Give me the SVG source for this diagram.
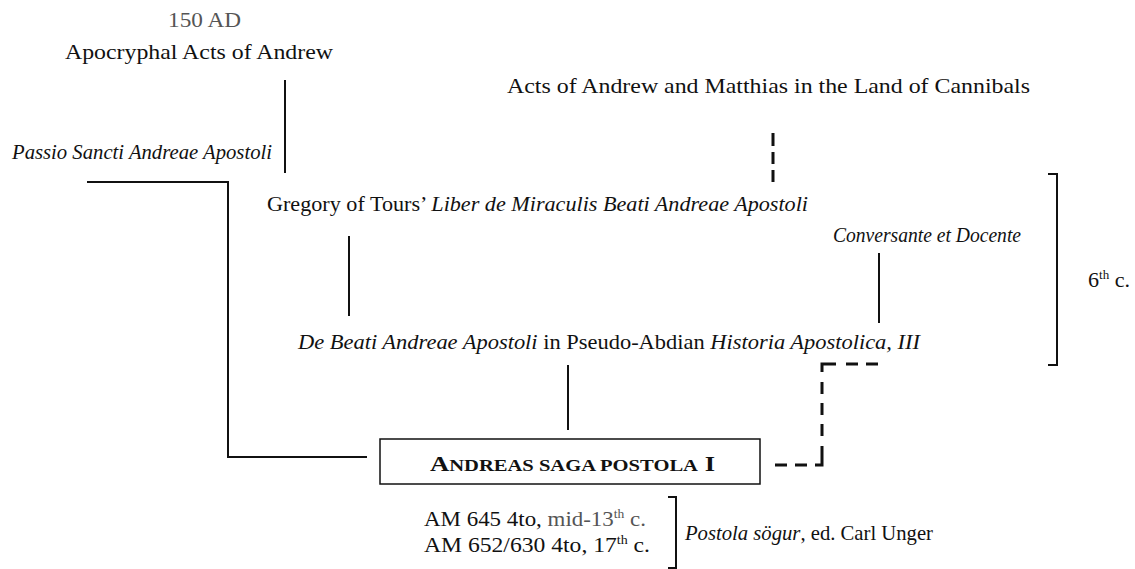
<svg xmlns="http://www.w3.org/2000/svg" width="1135" height="569" viewBox="0 0 1135 569">
<style>
text{font-family:"Liberation Serif","Times New Roman",serif;font-size:22px;fill:#111}
.i{font-style:italic}
.g{fill:#555}
.sup{font-size:13px}
.ln{stroke:#111;stroke-width:2;fill:none}
.ds{stroke:#111;stroke-width:3;fill:none}
.br{stroke:#111;stroke-width:2;fill:none}
</style>
<rect width="1135" height="569" fill="#fff"/>
<g id="connectors">
<line class="ln" x1="285" y1="80" x2="285" y2="173"/>
<polyline class="ln" points="87,182 228,182 228,457 367,457"/>
<path class="ds" d="M773,133V146M773,152V164M773,170V182"/>
<line class="ln" x1="349" y1="236" x2="349" y2="316"/>
<line class="ln" x1="879" y1="253" x2="879" y2="323"/>
<line class="ln" x1="568" y1="365" x2="568" y2="430"/>
<path class="ds" d="M878,364H866M858,364H846M836,364H822V372M822,382V394M822,403V415M822,424V436M822,446V465H815M807,465H795M787,465H775"/>
</g>
<g id="n-acts-andrew">
<text class="g" x="168" y="27" textLength="73" lengthAdjust="spacingAndGlyphs">150 AD</text>
<text x="65" y="59" textLength="268" lengthAdjust="spacingAndGlyphs">Apocryphal Acts of Andrew</text>
</g>
<g id="n-passio">
<text class="i" x="12" y="159" textLength="260" lengthAdjust="spacingAndGlyphs">Passio Sancti Andreae Apostoli</text>
</g>
<g id="n-matthias">
<text x="507" y="93" textLength="523" lengthAdjust="spacingAndGlyphs">Acts of Andrew and Matthias in the Land of Cannibals</text>
</g>
<g id="n-gregory">
<text x="267" y="211" textLength="541" lengthAdjust="spacingAndGlyphs">Gregory of Tours’ <tspan class="i">Liber de Miraculis Beati Andreae Apostoli</tspan></text>
</g>
<g id="n-conversante">
<text class="i" x="833" y="242" textLength="188" lengthAdjust="spacingAndGlyphs">Conversante et Docente</text>
</g>
<g id="n-debeati">
<text x="298" y="349" textLength="622" lengthAdjust="spacingAndGlyphs"><tspan class="i">De Beati Andreae Apostoli</tspan> in Pseudo-Abdian <tspan class="i">Historia Apostolica, III</tspan></text>
</g>
<g id="n-sixth">
<polyline class="br" points="1048,174 1057,174 1057,365 1048,365"/>
<text x="1088" y="287" textLength="42" lengthAdjust="spacingAndGlyphs">6<tspan class="sup" dy="-8">th</tspan><tspan dy="8"> c.</tspan></text>
</g>
<g id="n-saga">
<rect x="380" y="439" width="380" height="45" fill="none" stroke="#111" stroke-width="1.5"/>
<text x="430" y="471" font-weight="bold" font-size="23" textLength="285" lengthAdjust="spacingAndGlyphs">A<tspan font-size="17">NDREAS SAGA POSTOLA</tspan> I</text>
</g>
<g id="n-manuscripts">
<text x="424" y="526" textLength="222" lengthAdjust="spacingAndGlyphs">AM 645 4to, <tspan class="g">mid-13</tspan><tspan class="sup g" dy="-8">th</tspan><tspan class="g" dy="8"> c.</tspan></text>
<text x="424" y="552" textLength="226" lengthAdjust="spacingAndGlyphs">AM 652/630 4to, 17<tspan class="sup" dy="-8">th</tspan><tspan dy="8"> c.</tspan></text>
<polyline class="br" points="668,497 676,497 676,568 668,568"/>
<text x="685" y="540" textLength="248" lengthAdjust="spacingAndGlyphs"><tspan class="i">Postola sögur</tspan>, ed. Carl Unger</text>
</g>
</svg>
